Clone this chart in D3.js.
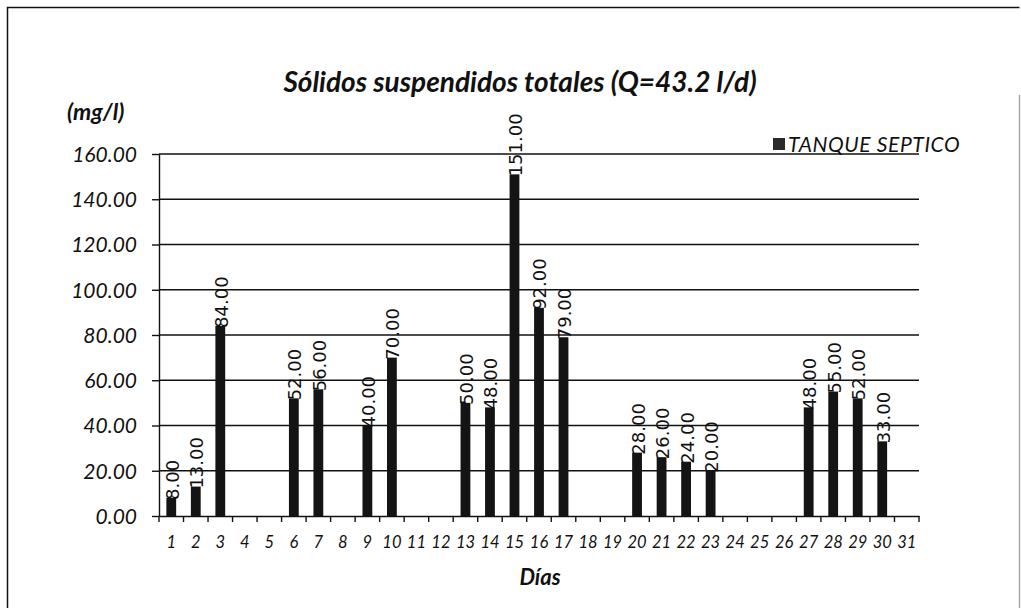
<!DOCTYPE html>
<html><head><meta charset="utf-8">
<script src="https://cdn.jsdelivr.net/npm/d3@7"></script>
<style>body{margin:0;background:#fff;}svg{display:block;}</style>
</head><body>
<svg id="c" width="1021" height="608"></svg>
<script>
const days = d3.range(1, 32).map(String);
const values = [8,13,84,null,null,52,56,null,40,70,null,null,50,48,151,92,79,null,null,28,26,24,20,null,null,null,48,55,52,33,null];
const yTicks = [0,20,40,60,80,100,120,140,160];
const title = "Sólidos suspendidos  totales (Q=43.2 l/d)";
const seriesName = "TANQUE SEPTICO";
const yUnit = "(mg/l)";
const xTitle = "Días";

const svg = d3.select("#c");
const pL = 159, pR = 919, pT = 154, pB = 516;
const x = d3.scaleBand().domain(days).range([pL, pR]).paddingInner(0.6).paddingOuter(0.3);
const xb = d3.scaleBand().domain(days).range([pL, pR]);
const y = d3.scaleLinear().domain([0,160]).range([pB, pT]);

// outer frame
svg.append("path").attr("d","M7.5,620 L7.5,7.5 L1019.5,7.5").attr("fill","none").attr("stroke","#111").attr("stroke-width",1.5);
svg.append("line").attr("x1",1019.5).attr("x2",1019.5).attr("y1",95).attr("y2",608).attr("stroke","#aaa").attr("stroke-width",1.5);

// gridlines
svg.append("g").selectAll("line").data(yTicks.filter(d=>d>0)).join("line")
  .attr("x1",pL).attr("x2",pR).attr("y1",d=>y(d)).attr("y2",d=>y(d))
  .attr("stroke","#111").attr("stroke-width",1.4);

// y axis
const yAxis = svg.append("g").attr("transform",`translate(${pL},0)`)
  .call(d3.axisLeft(y).tickValues(yTicks).tickSize(7).tickSizeOuter(0).tickFormat(d3.format(".2f")).tickPadding(15));
yAxis.select(".domain").attr("stroke","#111").attr("stroke-width",1.4);
yAxis.selectAll(".tick line").attr("stroke","#111").attr("stroke-width",1.4);
yAxis.selectAll("text").attr("font-family","Lato").attr("font-style","italic").attr("font-size",21).attr("fill","#111").attr("dy","0.35em");

// bars
const data = days.map((d,i)=>({d, v: values[i]})).filter(o=>o.v!=null);
svg.append("g").selectAll("rect").data(data).join("rect")
  .attr("x",o=>x(o.d)).attr("width",x.bandwidth())
  .attr("y",o=>y(o.v)).attr("height",o=>y(0)-y(o.v))
  .attr("fill","#141414");

// x axis
const xAxis = svg.append("g").attr("transform",`translate(0,${pB})`)
  .call(d3.axisBottom(xb).tickSize(0).tickPadding(0));
xAxis.select(".domain").attr("stroke","#111").attr("stroke-width",1.4);
xAxis.selectAll("text").attr("font-family","Lato").attr("font-style","italic").attr("font-size",16.5).attr("fill","#111").attr("y",32).attr("dy",0);
// tick marks between categories
svg.append("g").selectAll("line").data(d3.range(0,32)).join("line")
  .attr("x1",i=>pL+i*xb.step()).attr("x2",i=>pL+i*xb.step())
  .attr("y1",pB).attr("y2",pB+6).attr("stroke","#111").attr("stroke-width",1.4);

// data labels
svg.append("g").selectAll("text").data(data).join("text")
  .attr("transform",o=>`translate(${x(o.d)+x.bandwidth()/2+1},${y(o.v)+2}) rotate(-90)`)
  .attr("text-anchor","start").attr("dy","0.36em")
  .attr("font-family","DejaVu Sans").attr("font-size",18).attr("fill","#111")
  .text(o=>d3.format(".2f")(o.v));

// title
svg.append("text").attr("x",520).attr("y",92).attr("text-anchor","middle")
  .attr("font-family","Lato").attr("font-weight","bold").attr("font-style","italic").attr("font-size",28).attr("fill","#111")
  .text(title);
svg.append("text").attr("x",67).attr("y",120)
  .attr("font-family","Lato").attr("font-weight","bold").attr("font-style","italic").attr("font-size",23).attr("fill","#111")
  .text(yUnit);
svg.append("text").attr("x",540).attr("y",585).attr("text-anchor","middle")
  .attr("font-family","Lato").attr("font-weight","bold").attr("font-style","italic").attr("font-size",22).attr("fill","#111")
  .text(xTitle);

// legend
svg.append("rect").attr("x",773).attr("y",138).attr("width",12).attr("height",12).attr("fill","#2a2a2a");
svg.append("text").attr("x",788).attr("y",152)
  .attr("font-family","Lato").attr("font-style","italic").attr("font-size",21).attr("letter-spacing",0.6).attr("fill","#111")
  .text(seriesName);
</script>
</body></html>
